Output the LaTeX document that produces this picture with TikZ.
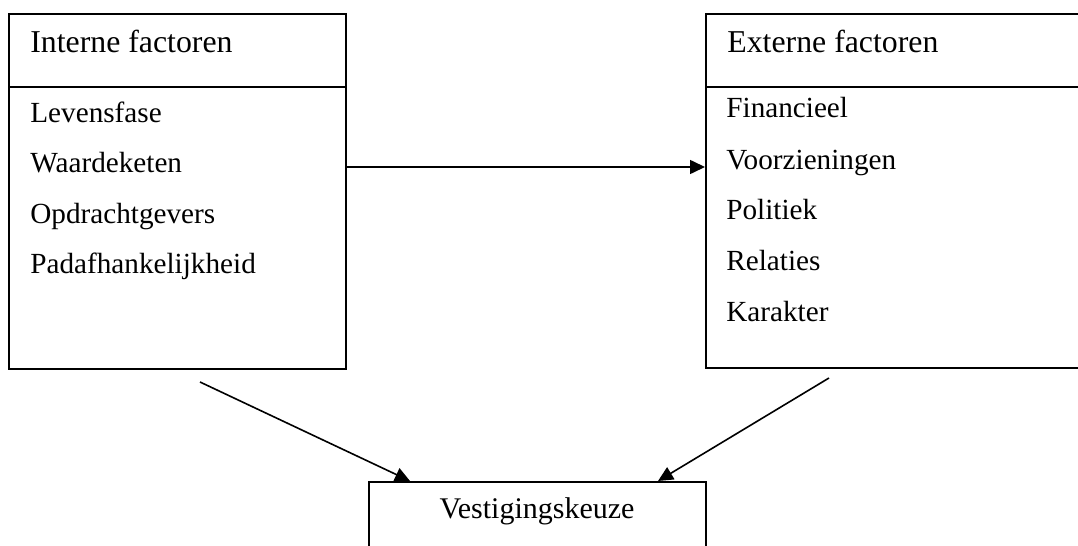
\documentclass[tikz,border=0pt]{standalone}
\usepackage{fontspec}
\setmainfont{Liberation Serif}
\usetikzlibrary{arrows.meta,positioning}

\tikzset{
  box/.style={draw, line width=1pt, inner sep=0pt},
  label/.style={anchor=base west, inner sep=0pt, font=\fontsize{14.6}{17}\selectfont},
  kop/.style={label, font=\fontsize{15.9}{19}\selectfont},
  link/.style={line width=0.8pt, -{Triangle[length=7.5pt,width=7pt]}}
}

\begin{document}
\begin{tikzpicture}[x=0.5pt,y=-0.5pt]

\useasboundingbox (0,0) rectangle (1078,546);

% Boxes (right one and bottom one run off the page edge)
\node[box, minimum width=168.5pt, minimum height=177.5pt] (intern) at (177.5,191.5) {};
\node[box, minimum width=192pt, minimum height=177pt] (extern) at (898,191) {};
\node[box, minimum width=168.5pt, minimum height=39pt] (keuze) at (537.5,521) {};

% Header dividers
\draw[line width=1pt] (intern.west |- 0,87) -- (intern.east |- 0,87);
\draw[line width=1pt] (extern.west |- 0,87) -- (extern.east |- 0,87);

% Headers
\node[kop] (internkop) at (30,53) {Interne factoren};
\node[kop] (externkop) at (727,53) {Externe factoren};

% Factor lists
\foreach \y/\name in {122/Levensfase,172/Waardeketen,223/Opdrachtgevers,273/Padafhankelijkheid}
{
  \node[label] at (30,\y) {\name};
}
\foreach \y/\name in {117/Financieel,169/Voorzieningen,219/Politiek,270/Relaties,321/Karakter}
{
  \node[label] at (726,\y) {\name};
}

% Bottom label
\node[anchor=base, inner sep=0pt, font=\fontsize{15}{18}\selectfont] (keuzetekst) at (537,518) {Vestigingskeuze};

% Arrows
\coordinate (internvoet) at (200,382);
\coordinate (externvoet) at (829,378);
\draw[link] (intern.east |- 0,167) -- (extern.west |- 0,167);
\draw[link] (internvoet) -- (keuze.north -| 410,0);
\draw[link] (externvoet) -- (keuze.north -| 658,0);

\end{tikzpicture}
\end{document}
